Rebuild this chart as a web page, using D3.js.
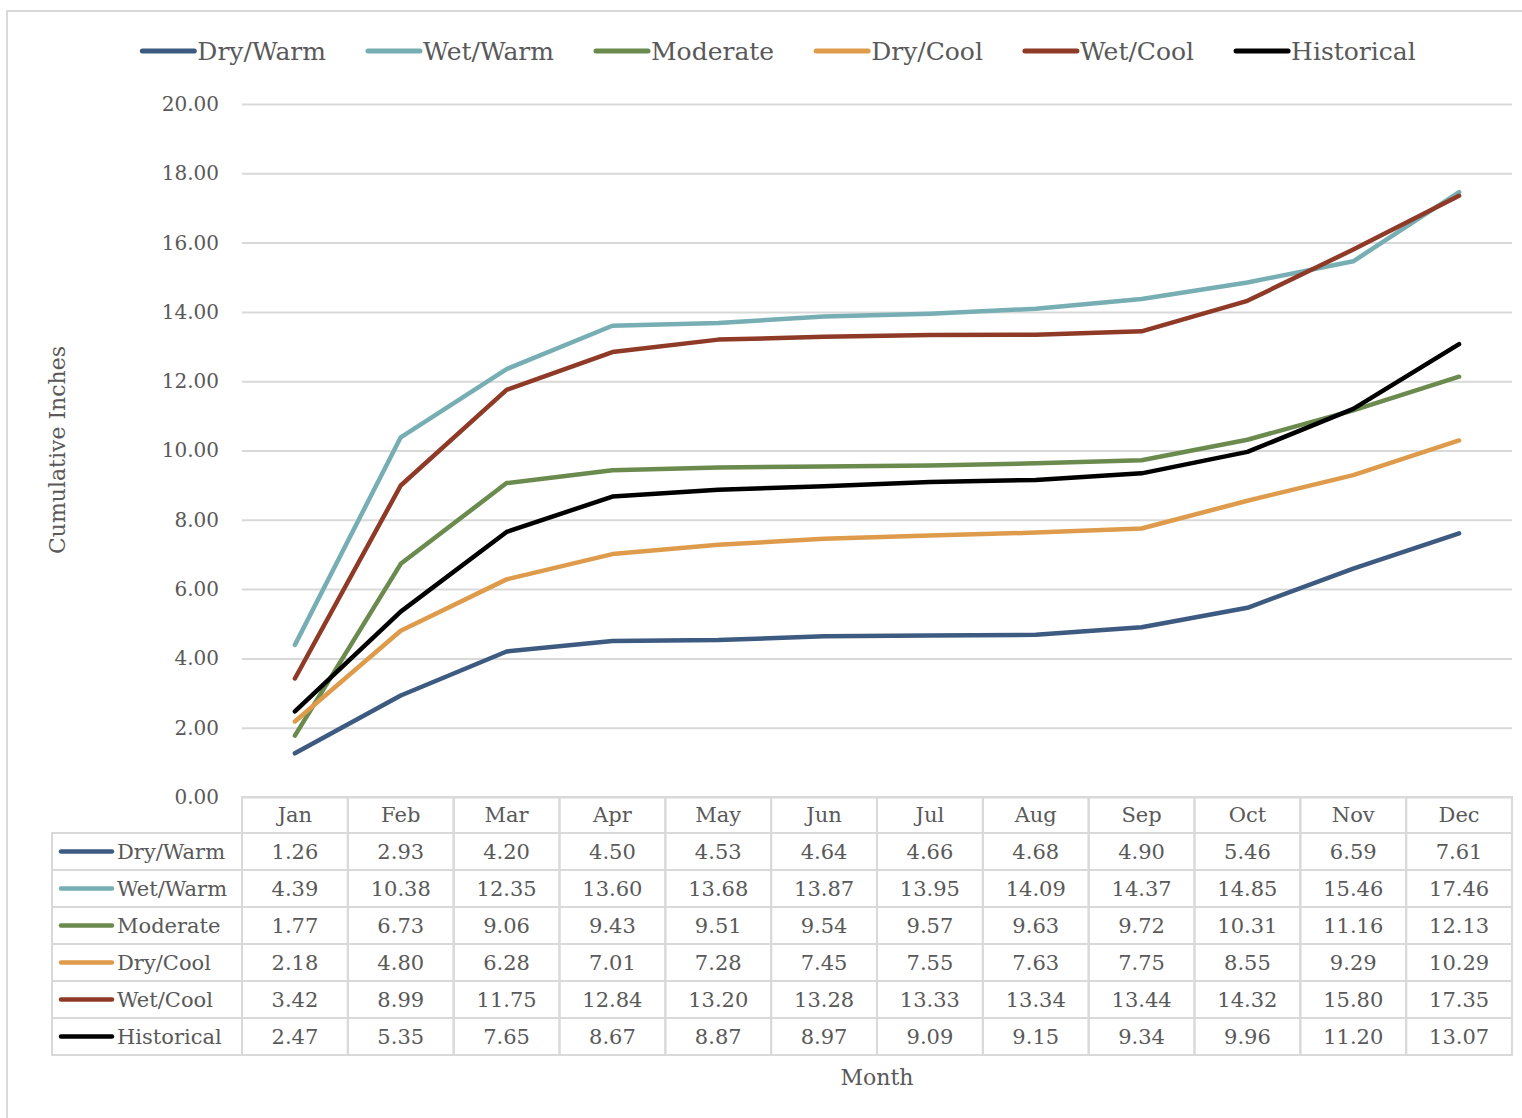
<!DOCTYPE html>
<html>
<head>
<meta charset="utf-8">
<script src="https://cdn.jsdelivr.net/npm/d3@7"></script>
<style>
  html, body { margin: 0; padding: 0; background: #ffffff; }
  svg { display: block; }
  text { font-family: "DejaVu Serif", "Liberation Serif", serif; fill: #595959; }
</style>
</head>
<body>
<svg id="chart" width="1522" height="1118"></svg>
<script>
// Monthly cumulative precipitation by climate scenario
const months = ["Jan", "Feb", "Mar", "Apr", "May", "Jun", "Jul", "Aug", "Sep", "Oct", "Nov", "Dec"];
const seriesNames = ["Dry/Warm", "Wet/Warm", "Moderate", "Dry/Cool", "Wet/Cool", "Historical"];
const seriesColors = ["#3d5a80", "#76aeb3", "#6a8a4e", "#de9b4b", "#8e3a27", "#000000"];

const dryWarm    = [1.26, 2.93, 4.20, 4.50, 4.53, 4.64, 4.66, 4.68, 4.90, 5.46, 6.59, 7.61];
const wetWarm    = [4.39, 10.38, 12.35, 13.60, 13.68, 13.87, 13.95, 14.09, 14.37, 14.85, 15.46, 17.46];
const moderate   = [1.77, 6.73, 9.06, 9.43, 9.51, 9.54, 9.57, 9.63, 9.72, 10.31, 11.16, 12.13];
const dryCool    = [2.18, 4.80, 6.28, 7.01, 7.28, 7.45, 7.55, 7.63, 7.75, 8.55, 9.29, 10.29];
const wetCool    = [3.42, 8.99, 11.75, 12.84, 13.20, 13.28, 13.33, 13.34, 13.44, 14.32, 15.80, 17.35];
const historical = [2.47, 5.35, 7.65, 8.67, 8.87, 8.97, 9.09, 9.15, 9.34, 9.96, 11.20, 13.07];

const yTicks = [0, 2, 4, 6, 8, 10, 12, 14, 16, 18, 20];
const yTitle = "Cumulative Inches";
const xTitle = "Month";

const seriesValues = [dryWarm, wetWarm, moderate, dryCool, wetCool, historical];
const series = seriesNames.map((name, i) => ({ name, color: seriesColors[i], values: seriesValues[i] }));

const svg = d3.select("#chart");
const gridColor = "#d9d9d9";

// Chart frame
svg.append("path")
  .attr("d", "M7,1120 V11 H1530")
  .attr("fill", "none")
  .attr("stroke", "#d9d9d9")
  .attr("stroke-width", 2);

const plot = { left: 242, right: 1512, top: 104, bottom: 797 };

const x = d3.scaleBand().domain(months).range([plot.left, plot.right]);
const y = d3.scaleLinear().domain([0, 20]).range([plot.bottom, plot.top]);
const cx = m => x(m) + x.bandwidth() / 2;

// Horizontal gridlines and value axis
const yAxis = d3.axisLeft(y)
  .tickValues(yTicks)
  .tickSize(-(plot.right - plot.left))
  .tickPadding(23)
  .tickFormat(d3.format(".2f"));

const yg = svg.append("g")
  .attr("transform", `translate(${plot.left},0)`)
  .call(yAxis);
yg.select(".domain").remove();
yg.selectAll(".tick line").attr("stroke", gridColor).attr("stroke-width", 2);
yg.selectAll(".tick text")
  .attr("font-size", 20)
  .attr("fill", "#595959")
  .attr("font-family", "DejaVu Serif, serif");

// Series lines
const line = d3.line()
  .x((d, i) => cx(months[i]))
  .y(d => y(d));

svg.append("g").selectAll("path")
  .data(series)
  .join("path")
  .attr("d", d => line(d.values))
  .attr("fill", "none")
  .attr("stroke", d => d.color)
  .attr("stroke-width", 4.5)
  .attr("stroke-linejoin", "round")
  .attr("stroke-linecap", "round");

// Data table under the plot
const table = svg.append("g");
const headerTop = 797, headerH = 36, rowH = 37, labelLeft = 52;
const rowsTop = headerTop + headerH;
const tableBottom = rowsTop + rowH * series.length;

// header cells
months.forEach(m => {
  table.append("rect")
    .attr("x", x(m)).attr("y", headerTop)
    .attr("width", x.bandwidth()).attr("height", headerH)
    .attr("fill", "none").attr("stroke", gridColor).attr("stroke-width", 2);
  table.append("text")
    .attr("x", cx(m)).attr("y", headerTop + headerH / 2 + 7)
    .attr("text-anchor", "middle")
    .attr("font-size", 21)
    .text(m);
});

// body rows
series.forEach((s, r) => {
  const top = rowsTop + r * rowH;
  table.append("rect")
    .attr("x", labelLeft).attr("y", top)
    .attr("width", plot.left - labelLeft).attr("height", rowH)
    .attr("fill", "none").attr("stroke", gridColor).attr("stroke-width", 2);
  table.append("line")
    .attr("x1", 61).attr("x2", 112)
    .attr("y1", top + rowH / 2).attr("y2", top + rowH / 2)
    .attr("stroke", s.color).attr("stroke-width", 4.5)
    .attr("stroke-linecap", "round");
  table.append("text")
    .attr("x", 117).attr("y", top + rowH / 2 + 7)
    .attr("font-size", 21)
    .text(s.name);
  months.forEach((m, i) => {
    table.append("rect")
      .attr("x", x(m)).attr("y", top)
      .attr("width", x.bandwidth()).attr("height", rowH)
      .attr("fill", "none").attr("stroke", gridColor).attr("stroke-width", 2);
    table.append("text")
      .attr("x", cx(m)).attr("y", top + rowH / 2 + 7)
      .attr("text-anchor", "middle")
      .attr("font-size", 21)
      .text(d3.format(".2f")(s.values[i]));
  });
});

// Axis titles
svg.append("text")
  .attr("transform", "translate(65,450) rotate(-90)")
  .attr("text-anchor", "middle")
  .attr("font-size", 22)
  .text(yTitle);

svg.append("text")
  .attr("x", 877).attr("y", 1085)
  .attr("text-anchor", "middle")
  .attr("font-size", 22)
  .text(xTitle);

// Legend across the top
const legend = svg.append("g");
const swatchW = 54, swatchGap = 3, entryGap = 40;
let cursor = 0;
const entries = series.map(s => {
  const g = legend.append("g");
  g.append("line")
    .attr("x1", 2).attr("x2", swatchW)
    .attr("y1", 0).attr("y2", 0)
    .attr("stroke", s.color).attr("stroke-width", 5)
    .attr("stroke-linecap", "round");
  const t = g.append("text")
    .attr("x", swatchW + swatchGap).attr("y", 9)
    .attr("font-size", 25)
    .text(s.name);
  const w = swatchW + swatchGap + t.node().getComputedTextLength();
  g.attr("transform", `translate(${cursor},0)`);
  cursor += w + entryGap;
  return g;
});
const legendW = cursor - entryGap;
legend.attr("transform", `translate(${778 - legendW / 2},51)`);
</script>
</body>
</html>
